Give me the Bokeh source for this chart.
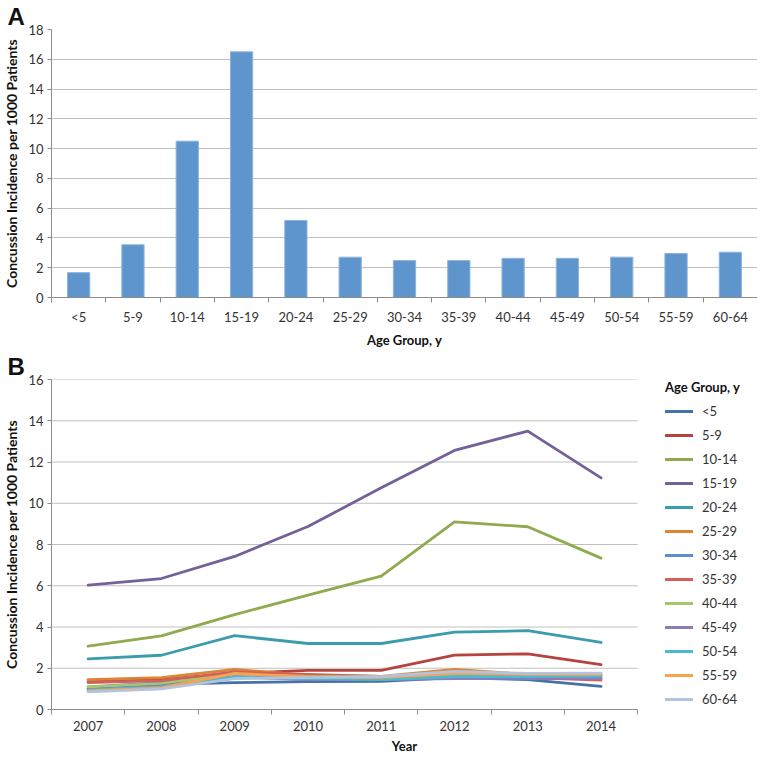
from bokeh.plotting import figure
from bokeh.models import Range1d, FixedTicker, Legend, LegendItem, Title
from bokeh.embed import file_html
from bokeh.resources import INLINE

# ---------------- data ----------------
age_groups = ["<5", "5-9", "10-14", "15-19", "20-24", "25-29", "30-34",
              "35-39", "40-44", "45-49", "50-54", "55-59", "60-64"]
incidence_by_age = [1.67, 3.54, 10.5, 16.5, 5.17, 2.71, 2.48,
                    2.48, 2.63, 2.63, 2.71, 2.96, 3.04]

years = ["2007", "2008", "2009", "2010", "2011", "2012", "2013", "2014"]
inc_lt5   = [1.00, 1.22, 1.30, 1.35, 1.37, 1.55, 1.45, 1.12]
inc_5_9   = [1.35, 1.45, 1.75, 1.90, 1.90, 2.64, 2.70, 2.18]
inc_10_14 = [3.07, 3.57, 4.60, 5.55, 6.47, 9.10, 8.86, 7.34]
inc_15_19 = [6.03, 6.35, 7.42, 8.87, 10.75, 12.56, 13.50, 11.23]
inc_20_24 = [2.45, 2.63, 3.58, 3.20, 3.20, 3.75, 3.82, 3.25]
inc_25_29 = [1.45, 1.55, 1.95, 1.65, 1.60, 1.95, 1.70, 1.62]
inc_30_34 = [1.10, 1.30, 1.62, 1.45, 1.45, 1.52, 1.50, 1.50]
inc_35_39 = [1.30, 1.40, 1.82, 1.70, 1.60, 1.62, 1.55, 1.42]
inc_40_44 = [1.10, 1.25, 1.70, 1.60, 1.58, 1.70, 1.68, 1.65]
inc_45_49 = [0.95, 1.15, 1.58, 1.45, 1.45, 1.50, 1.55, 1.50]
inc_50_54 = [0.95, 1.10, 1.58, 1.50, 1.45, 1.60, 1.60, 1.62]
inc_55_59 = [0.90, 1.05, 1.75, 1.58, 1.55, 1.75, 1.70, 1.70]
inc_60_64 = [0.85, 1.00, 1.50, 1.55, 1.60, 1.85, 1.75, 1.76]

series_values = [inc_lt5, inc_5_9, inc_10_14, inc_15_19, inc_20_24, inc_25_29,
                 inc_30_34, inc_35_39, inc_40_44, inc_45_49, inc_50_54,
                 inc_55_59, inc_60_64]
series_colors = ["#4573A8", "#B6433F", "#8FAA4F", "#75609A", "#3D9BAE", "#DC8537",
                 "#5B90D0", "#D3605A", "#A7C66A", "#8E7BBC", "#4CB9D4",
                 "#F7A350", "#B3C3DB"]

y_ticks_a = list(range(0, 19, 2))
y_ticks_b = list(range(0, 17, 2))

# ---------------- style helpers ----------------
FONT = "Lato"
AXIS_COL = "#8C8C8C"
GRID_COL = "#C0C0C0"
TICK_TXT = "#333333"
W = 757


def style_axes(p, yticks):
    p.outline_line_color = None
    p.xgrid.grid_line_color = None
    p.ygrid.grid_line_color = GRID_COL
    p.ygrid.grid_line_width = 1
    p.yaxis.ticker = FixedTicker(ticks=yticks)
    for ax in (p.xaxis[0], p.yaxis[0]):
        ax.axis_line_color = AXIS_COL
        ax.major_tick_line_color = AXIS_COL
        ax.minor_tick_line_color = AXIS_COL
        ax.major_label_text_font = FONT
        ax.major_label_text_font_size = "13px"
        ax.major_label_text_color = TICK_TXT
        ax.axis_label_text_font = FONT
        ax.axis_label_text_font_size = "13px"
        ax.axis_label_text_font_style = "bold"
        ax.axis_label_text_color = "#111111"
    p.yaxis.axis_label_text_font_size = "14px"
    p.yaxis.major_tick_out = 4
    p.yaxis.major_tick_in = 0
    p.yaxis.minor_tick_out = 0
    p.yaxis.minor_tick_in = 0
    p.yaxis.major_label_standoff = 4
    p.yaxis.axis_label_standoff = 5
    p.xaxis.major_tick_out = 0
    p.xaxis.major_tick_in = 0
    p.xaxis.minor_tick_out = 5
    p.xaxis.minor_tick_in = 0
    p.xaxis.major_label_standoff = 6
    p.xaxis.axis_label_standoff = 4
    p.yaxis.axis_label = "Concussion Incidence per 1000 Patients"


def panel_letter(p, letter):
    t = Title(text=letter, align="left", offset=-44, standoff=0,
              text_font="Liberation Sans", text_font_size="24px",
              text_font_style="bold", text_color="#111111")
    p.add_layout(t, "above")


# ---------------- Panel A ----------------
nA = len(age_groups)
xA = [i + 0.5 for i in range(nA)]
pA = figure(width=W, height=350, output_backend="svg", toolbar_location=None,
            x_range=Range1d(0, nA), y_range=Range1d(0, 18),
            min_border_left=44, min_border_right=0, min_border_top=0,
            min_border_bottom=40)
pA.vbar(x=xA, top=incidence_by_age, bottom=0, width=0.41,
        fill_color="#5F95CD", line_color="#8DB4DE", line_width=1)
style_axes(pA, y_ticks_a)
pA.xaxis.ticker = FixedTicker(ticks=xA, minor_ticks=list(range(nA + 1)))
pA.xaxis.major_label_overrides = {x: lab for x, lab in zip(xA, age_groups)}
pA.xaxis.axis_label = "Age Group, y"
panel_letter(pA, "A")

# ---------------- Panel B ----------------
# the frame spans the full width; the data (x 0..nB) occupies the left part,
# the legend sits in the empty right part of the frame
nB = len(years)
xB = [i + 0.5 for i in range(nB)]
PLOT_FRAC = 592 / 713
pB = figure(width=W, height=406, output_backend="svg", toolbar_location=None,
            x_range=Range1d(0, nB / PLOT_FRAC), y_range=Range1d(0, 16),
            min_border_left=44, min_border_right=0, min_border_top=0,
            min_border_bottom=40)
style_axes(pB, y_ticks_b)
pB.ygrid.visible = False
pB.xaxis.bounds = (0, nB)
pB.xaxis.ticker = FixedTicker(ticks=xB, minor_ticks=list(range(nB + 1)))
pB.xaxis.major_label_overrides = {x: lab for x, lab in zip(xB, years)}
pB.xaxis.axis_label = "Year"
panel_letter(pB, "B")

# horizontal grid lines limited to the data part
grid_y = y_ticks_b[1:]
pB.segment(x0=[0] * len(grid_y), x1=[nB] * len(grid_y), y0=grid_y, y1=grid_y,
           line_color=GRID_COL, line_width=1)

items = []
for name, vals, col in zip(age_groups, series_values, series_colors):
    r = pB.line(x=xB, y=vals, line_color=col, line_width=2.8,
                line_join="round", line_cap="round")
    items.append(LegendItem(label=name, renderers=[r]))

# legend location = bottom-left corner, in frame pixels
legend = Legend(items=items, location=(614, 1), title="Age Group, y",
                title_text_font=FONT, title_text_font_size="13px",
                title_text_font_style="bold", title_text_color="#111111",
                title_standoff=7,
                label_text_font=FONT, label_text_font_size="13px",
                label_text_color=TICK_TXT,
                glyph_width=28, glyph_height=18, label_height=18,
                label_standoff=9, spacing=6, padding=0, margin=0,
                border_line_color=None, background_fill_alpha=0)
pB.add_layout(legend)

open("out.html", "w").write(file_html([pA, pB], INLINE))
